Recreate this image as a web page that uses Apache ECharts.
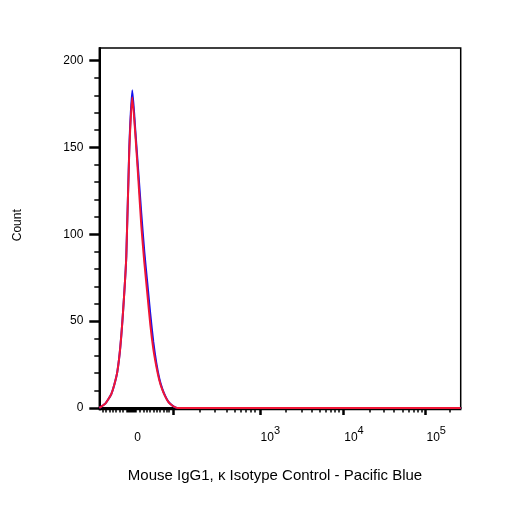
<!DOCTYPE html>
<html>
<head>
<meta charset="utf-8">
<script src="https://cdn.jsdelivr.net/npm/echarts@6/dist/echarts.min.js"></script>
<style>
html,body{margin:0;padding:0;background:#fff;}
#c{width:506px;height:506px;}
</style>
</head>
<body>
<div id="c"></div>
<script>
// Display channel (logicle-scaled, 0..361.4) and counts
const channels   = [0, 3, 6, 9, 12, 15, 18, 21, 24, 27, 30, 33, 36, 39, 42, 45, 48, 51, 54, 57, 60, 63, 66, 69, 72, 75, 78, 90, 361.4];
const redCounts  = [0, 1.2, 2.5, 5, 8, 13.4, 20.8, 35, 57.6, 87.4, 148.5, 179, 158, 132, 105, 84, 66, 48, 34, 24, 16, 10.5, 6.5, 3.5, 1.8, 0.6, 0, 0, 0];
const blueCounts = [0, 1.2, 2.5, 5, 8, 13.4, 20.8, 35, 57.6, 87.4, 150, 183, 160, 136, 112, 90, 72, 54, 38, 26, 17, 11, 6.8, 3.6, 1.8, 0.6, 0, 0, 0];

// Axis ticks and labels (x in display channels)
const xLabelValues = [38.4, 171, 254.7, 336.9];
const xLabelTexts  = ['0', '10^3', '10^4', '10^5'];
const xMajorTicks  = [74, 161.2, 244, 326.4];
const xMinorTicks  = [3, 6.4, 10, 13, 16.7, 20, 23.4,
  27.7, 28.7, 29.7, 30.7, 31.7, 32.7, 33.7, 34.7, 35.7, 36.7,
  40.7, 44, 47.4, 50.7, 54, 57.4, 60.7, 64, 67.4, 69.7,
  100.7, 115.7, 127.4, 135.7, 141.7, 146.4, 151, 155,
  186.7, 202.4, 212.4, 220.7, 226.7, 231.4, 235.7, 239.7,
  270, 284.7, 294.7, 303, 309, 314, 318, 322.4,
  350.7];
const yMajorTicks = [0, 50, 100, 150, 200];
const yMinorTicks = [10, 20, 30, 40, 60, 70, 80, 90, 110, 120, 130, 140, 160, 170, 180, 190];

const xTitle = 'Mouse IgG1, κ Isotype Control - Pacific Blue';
const yTitle = 'Count';

const X_MIN = 0, X_MAX = 361.4, Y_MIN = -0.9, Y_MAX = 207.3;
const FONT = 'Liberation Sans, Arial, sans-serif';

function pairs(xs, ys){ return xs.map((x,i)=>[x, ys[i]]); }

const chart = echarts.init(document.getElementById('c'), null, {renderer:'canvas'});
const baseX = {type:'value', min:X_MIN, max:X_MAX, position:'bottom', splitLine:{show:false}};
const baseY = {type:'value', min:Y_MIN, max:Y_MAX, position:'left', splitLine:{show:false}};
chart.setOption({
  animation:false,
  backgroundColor:'#fff',
  grid:{left:99.3, top:48, right:45.3, bottom:96.5, show:true, borderColor:'#000', borderWidth:1.5, backgroundColor:'transparent'},
  xAxis:[
    Object.assign({}, baseX, {
      axisLine:{show:true, lineStyle:{color:'#000', width:2}},
      axisTick:{show:true, customValues:xMinorTicks, length:4.5, lineStyle:{color:'#000', width:1.5}},
      axisLabel:{show:false},
      name:xTitle, nameLocation:'middle', nameGap:59,
      nameTextStyle:{fontFamily:FONT, fontSize:15, color:'#000', padding:[0,10,0,0]}
    }),
    Object.assign({}, baseX, {
      axisLine:{show:false},
      axisTick:{show:true, customValues:xMajorTicks, length:7, lineStyle:{color:'#000', width:2.5}},
      axisLabel:{show:false}
    }),
    Object.assign({}, baseX, {
      axisLine:{show:false},
      axisTick:{show:false},
      axisLabel:{show:true, customValues:xLabelValues, margin:16,
        formatter:function(v){
          let i = xLabelValues.indexOf(v);
          if (i < 0) { i = xLabelValues.findIndex(t=>Math.abs(t-v)<0.01); }
          const t = xLabelTexts[i] || '';
          const m = t.split('^');
          return m.length === 2 ? '{b|'+m[0]+'}{s|'+m[1]+'}' : '{b|'+t+'}';
        },
        rich:{
          b:{fontFamily:FONT, fontSize:12, color:'#000', lineHeight:18, verticalAlign:'bottom'},
          s:{fontFamily:FONT, fontSize:11, color:'#000', lineHeight:18, verticalAlign:'top'}
        }
      }
    })
  ],
  yAxis:[
    Object.assign({}, baseY, {
      axisLine:{show:true, lineStyle:{color:'#000', width:2}},
      axisTick:{show:true, customValues:yMajorTicks, length:10, lineStyle:{color:'#000', width:2.5}},
      axisLabel:{show:true, customValues:yMajorTicks, margin:16, fontFamily:FONT, fontSize:12, color:'#000'},
      name:yTitle, nameLocation:'middle', nameGap:76,
      nameTextStyle:{fontFamily:FONT, fontSize:12, color:'#000', padding:[0,0,0,7]}
    }),
    Object.assign({}, baseY, {
      axisLine:{show:false},
      axisTick:{show:true, customValues:yMinorTicks, length:5, lineStyle:{color:'#000', width:1.5}},
      axisLabel:{show:false}
    })
  ],
  series:[
    {type:'line', name:'blue', data:pairs(channels, blueCounts), xAxisIndex:0, yAxisIndex:0,
     showSymbol:false, smooth:0.2, lineStyle:{color:'#1010f0', width:2}, z:3},
    {type:'line', name:'red', data:pairs(channels, redCounts), xAxisIndex:0, yAxisIndex:0,
     showSymbol:false, smooth:0.2, lineStyle:{color:'#f01535', width:2}, z:4}
  ]
});
</script>
</body>
</html>
